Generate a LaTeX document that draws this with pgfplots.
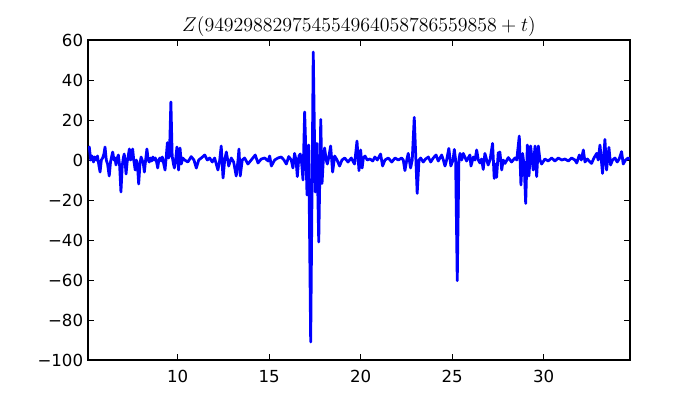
\documentclass[border=0pt]{standalone}
\usepackage[no-math]{fontspec}
\setmainfont{DejaVu Sans}
\usepackage{pgfplots}
\pgfplotsset{compat=1.18}
\begin{document}
\begin{tikzpicture}
\useasboundingbox (-63.6pt,-28.9pt) rectangle (442.3pt,260.2pt);
\begin{axis}[
  at={(0,0)}, anchor=south west,
  scale only axis, width=391.7pt, height=231.3pt,
  xmin=5.1, xmax=34.72, ymin=-100, ymax=60,
  xtick={10,15,20,25,30}, xticklabels={10,15,20,25,30},
  ytick={-100,-80,-60,-40,-20,0,20,40,60},
  yticklabels={−100,−80,−60,−40,−20,0,20,40,60},
  tick label style={font=\fontsize{12}{14}\selectfont},
  xticklabel style={yshift=-4pt},
  major tick length=4pt,
  tick style={black, line width=0.6pt},
  axis line style={line width=1pt},
  title={$Z(949298829754554964058786559858+t)$},
  title style={font=\fontsize{14.4}{17}\selectfont, at={(0.5,1)}, anchor=base, yshift=0pt},
]
\addplot[blue, line width=2pt, line join=round, no markers] coordinates {
(5.10,5) (5.17,6.5) (5.25,0) (5.32,2) (5.40,-1) (5.47,1.5) (5.55,0) (5.62,2) (5.70,-3) (5.76,-6) (5.83,0) (5.90,1) (5.97,3) (6.03,6.5) (6.10,0) (6.17,-2) (6.26,-8) (6.33,-1) (6.40,2) (6.45,4) (6.52,0) (6.58,1) (6.63,-2.5) (6.70,1) (6.76,2.5) (6.83,-3) (6.90,-16) (6.97,-3) (7.03,1) (7.08,3) (7.13,-1) (7.18,-7) (7.24,-1) (7.30,2) (7.36,5.5) (7.42,0) (7.48,1) (7.54,5.5) (7.60,0) (7.68,-5) (7.74,0) (7.80,-2) (7.87,-12) (7.94,-2) (8.00,1.5) (8.06,0) (8.12,-1.5) (8.18,-6) (8.25,0) (8.32,5.5) (8.39,0) (8.45,-1) (8.52,1) (8.58,-0.5) (8.65,1.5) (8.72,0) (8.78,1) (8.85,-1) (8.91,-4) (8.97,0) (9.03,1) (9.10,-0.5) (9.16,1.5) (9.22,-1) (9.31,-5) (9.37,1) (9.44,8.7) (9.50,1) (9.55,2) (9.63,29) (9.70,2) (9.76,-1.5) (9.82,-4) (9.90,1) (9.96,6.5) (10.05,-5) (10.13,6) (10.20,-2) (10.27,1)
(10.38,0) (10.56,-1) (10.74,1.7) (10.89,0) (11.02,-4) (11.15,0) (11.29,1) (11.48,2.5) (11.62,0) (11.75,1) (11.89,-1) (12.02,1) (12.20,-5) (12.30,0) (12.38,7) (12.48,-9) (12.57,0) (12.66,4) (12.79,-3) (12.93,1) (13.06,-1) (13.20,-8) (13.30,0) (13.35,5.5) (13.42,-8) (13.53,0) (13.66,1) (13.84,-2) (14.02,0) (14.24,2.5) (14.39,-1.5) (14.57,0.5) (14.76,1) (14.94,-0.5)
(15.03,2) (15.12,-3) (15.30,0) (15.48,1) (15.66,1.5) (15.81,0) (15.94,-2) (16.07,1.7) (16.21,0) (16.30,-4) (16.39,3.3) (16.47,0) (16.54,-8.3) (16.63,2) (16.70,3) (16.78,-2) (16.85,-10) (16.94,24) (17.01,3) (17.07,-17.5) (17.16,7.5) (17.27,-91) (17.41,54) (17.52,-16) (17.61,8.3) (17.71,-41) (17.82,20.3) (17.89,-11.7) (17.96,0) (18.03,6) (18.12,0) (18.18,-2) (18.25,1) (18.36,7) (18.47,-6) (18.58,2) (18.71,0) (18.85,-3) (18.98,0) (19.13,1) (19.31,-1) (19.49,1) (19.60,-1) (19.67,-2) (19.80,9.5) (19.91,-5.3) (20.00,5) (20.08,-4) (20.15,1)
(20.24,2) (20.36,0) (20.51,0.5) (20.66,-0.5) (20.78,1.5) (20.91,0) (21.09,3) (21.20,-3) (21.33,0) (21.51,1) (21.70,-1) (21.88,1) (22.06,0) (22.24,1) (22.33,0) (22.42,-5.3) (22.52,0) (22.60,3.3) (22.73,-4) (22.82,0) (22.93,21.3) (23.02,0) (23.09,-16.7) (23.19,0) (23.28,1) (23.42,-1) (23.55,0.5) (23.70,1.5) (23.83,-1) (23.97,1) (24.12,2.5) (24.24,-0.5) (24.43,2.5) (24.52,0) (24.61,-3) (24.70,0) (24.82,5.8) (24.93,-3) (25.05,0) (25.12,5.3) (25.19,0) (25.28,-60.3) (25.37,0) (25.43,3.3)
(25.52,0) (25.61,3.3) (25.79,-0.5) (25.97,2.5) (26.03,-3) (26.16,1.5) (26.25,0) (26.34,5) (26.43,0) (26.52,-1.5) (26.61,0.5) (26.70,-4.7) (26.79,3.3) (26.89,0) (26.97,-2.5) (27.07,0) (27.21,8.3) (27.30,-9.2) (27.38,-2) (27.43,-8.7) (27.52,3.7) (27.58,0) (27.61,4) (27.71,-5) (27.79,0) (27.89,-1.7) (28.07,1.2) (28.25,-1) (28.43,1) (28.53,0) (28.67,12) (28.76,-12.5) (28.85,3.3) (28.94,-3) (29.02,-21.7) (29.11,7.5) (29.20,-8) (29.29,7) (29.43,-5) (29.53,7) (29.62,-8.3) (29.71,7) (29.80,0) (29.89,-2)
(30.07,0.5) (30.25,-0.5) (30.44,1) (30.62,-0.5) (30.80,1) (30.99,0) (31.17,0.5) (31.35,-0.5) (31.53,1) (31.71,0) (31.81,-1.5) (31.95,2.5) (32.06,0) (32.17,5) (32.26,-1) (32.39,0.5) (32.49,-0.5) (32.62,-1.7) (32.75,1) (32.90,3.3) (32.98,0) (33.08,7.5) (33.22,-6.7) (33.35,10.3) (33.44,-5) (33.57,6.3) (33.66,-2.5) (33.77,0) (33.90,1) (34.02,-1) (34.13,0.5) (34.26,4.2) (34.35,-2) (34.48,0) (34.62,1) (34.72,0.5)
};
\end{axis}
\end{tikzpicture}
\end{document}
